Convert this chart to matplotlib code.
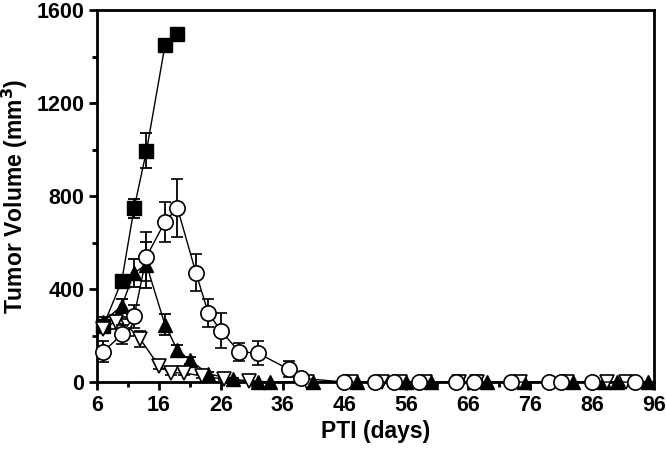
import numpy as np
import matplotlib
matplotlib.use("Agg")
import matplotlib.pyplot as plt

plt.rcParams["font.family"] = ["Liberation Sans", "DejaVu Sans"]
plt.rcParams["font.weight"] = "bold"

# control (filled squares)
sq_days = [7, 10, 12, 14, 17, 19]
sq_vol = [240, 435, 748, 995, 1450, 1500]
sq_err = [15, 25, 40, 75, 0, 0]

# filled triangles
tri_days = [7, 10, 12, 14, 17, 19, 21, 24, 28, 32, 34, 41, 48, 56, 60, 69, 75, 83, 88, 90, 95]
tri_vol = [260, 328, 470, 505, 246, 138, 95, 35, 13, 0, 0, 0, 0, 0, 0, 0, 0, 0, 0, 0, 0]
tri_err = [20, 30, 60, 100, 45, 20, 15, 10, 5, 0, 0, 0, 0, 0, 0, 0, 0, 0, 0, 0, 0]

# open down triangles
dtri_days = [7, 9, 11, 13, 16, 18, 20, 23, 26.5, 30.5, 40, 47, 52, 55, 59, 64.5, 67.5, 74.3, 82, 88.5, 91.5]
dtri_vol = [230, 260, 240, 185, 70, 40, 40, 26, 13, 3, 0, 0, 0, 0, 0, 0, 0, 0, 0, 0, 0]
dtri_err = [20, 30, 40, 35, 15, 10, 10, 8, 5, 0, 0, 0, 0, 0, 0, 8, 8, 8, 0, 0, 0]

# open circles
circ_days = [7, 10, 12, 14, 17, 19, 22, 24, 26, 29, 32, 37, 39, 46, 51, 54, 58, 64, 67, 73, 79, 81, 86, 93]
circ_vol = [130, 205, 283, 540, 690, 750, 470, 297, 222, 130, 125, 55, 17, 0, 0, 0, 0, 0, 0, 0, 0, 0, 0, 0]
circ_err = [45, 40, 50, 105, 85, 125, 80, 60, 75, 40, 50, 35, 10, 0, 0, 0, 0, 0, 0, 0, 0, 0, 0, 0]

fig = plt.figure(figsize=(6.66, 4.49), dpi=100)
ax = fig.add_axes([0.1456, 0.149, 0.836, 0.828])

ekw = dict(color="black", lw=1, elinewidth=1.3, capsize=4.5, capthick=1.3, clip_on=False)
ax.errorbar(sq_days, sq_vol, yerr=sq_err, marker="s", ms=9.5, mfc="black", mec="black", zorder=3, **ekw)
ax.errorbar(tri_days, tri_vol, yerr=tri_err, marker="^", ms=10, mfc="black", mec="black", zorder=4, **ekw)
ax.errorbar(dtri_days, dtri_vol, yerr=dtri_err, marker="v", ms=10.5, mfc="white", mec="black", mew=1.2, zorder=5, **ekw)
ax.errorbar(circ_days, circ_vol, yerr=circ_err, marker="o", ms=11, mfc="white", mec="black", mew=1.2, zorder=6, **ekw)

ax.set_xlim(6, 96)
ax.set_ylim(0, 1600)
ax.set_xticks(np.arange(6, 97, 10))
ax.set_xticks(np.arange(11, 96, 10), minor=True)
ax.set_yticks(np.arange(0, 1601, 400))
ax.set_yticks(np.arange(200, 1600, 400), minor=True)
ax.tick_params(which="major", length=6, width=2, labelsize=15.5, pad=3)
ax.tick_params(which="minor", length=3.5, width=2)
for s in ax.spines.values():
    s.set_linewidth(2)

ax.set_xlabel("PTI (days)", fontsize=16.5, fontweight="bold", labelpad=3)
ax.set_ylabel("Tumor Volume (mm$^\\mathbf{3}$)", fontsize=16.5, fontweight="bold", labelpad=5)

fig.savefig("out.png", dpi=100)
